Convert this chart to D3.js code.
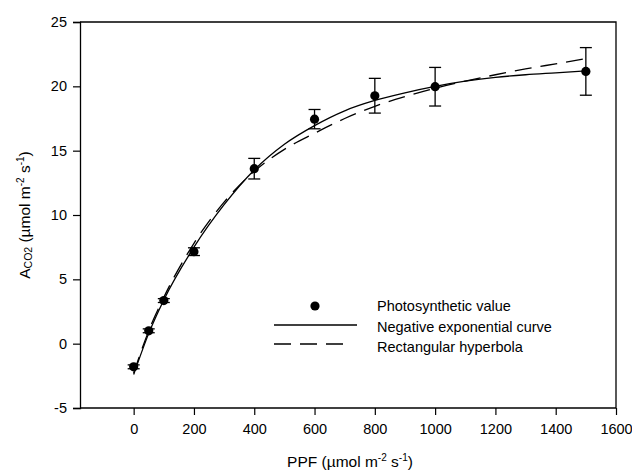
<!DOCTYPE html>
<html>
<head>
<meta charset="utf-8">
<script src="https://cdn.jsdelivr.net/npm/d3@7"></script>
<style>
  html, body { margin: 0; padding: 0; background: #fff; }
  svg { display: block; font-family: "Liberation Sans", Arial, sans-serif; }
</style>
</head>
<body>
<svg id="chart" width="632" height="472"></svg>
<script>
// ---- data ----
const ppf = [0, 50, 100, 200, 400, 600, 800, 1000, 1500];
const photoValue = [-1.8, 1.0, 3.35, 7.15, 13.6, 17.45, 19.27, 19.97, 21.16];
const photoErr = [0.15, 0.15, 0.15, 0.3, 0.8, 0.75, 1.35, 1.5, 1.85];

const curveX = [0, 50, 100, 200, 300, 400, 500, 600, 700, 800, 900, 1000, 1100, 1200, 1300, 1400, 1500];
const negExpY = [-2.4, 0.8, 3.4, 7.5, 10.8, 13.5, 15.5, 16.95, 18.1, 18.9, 19.5, 20.0, 20.4, 20.7, 20.9, 21.05, 21.2];
const rectHypY = [-2.3, 1.0, 3.6, 7.8, 11.0, 13.4, 15.1, 16.35, 17.5, 18.45, 19.2, 19.85, 20.4, 20.9, 21.35, 21.75, 22.15];

const xTicks = [0, 200, 400, 600, 800, 1000, 1200, 1400, 1600];
const yTicks = [-5, 0, 5, 10, 15, 20, 25];
const legendLabels = ["Photosynthetic value", "Negative exponential curve", "Rectangular hyperbola"];

// ---- layout ----
const svg = d3.select("#chart");
const L = 80, R = 616, T = 22, B = 408;
const x = d3.scaleLinear().domain([-178, 1600]).range([L, R]);
const y = d3.scaleLinear().domain([-5, 25]).range([B, T]);
const fontSize = 14.5;

// frame (top and right)
svg.append("path")
  .attr("d", `M${L},${T}H${R}V${B}`)
  .attr("fill", "none").attr("stroke", "#000").attr("stroke-width", 1.3);

// y axis
const yAxis = svg.append("g").attr("transform", `translate(${L},0)`)
  .call(d3.axisLeft(y).tickValues(yTicks).tickSize(7).tickPadding(6).tickFormat(d => String(d)));
// x axis
const xAxis = svg.append("g").attr("transform", `translate(0,${B})`)
  .call(d3.axisBottom(x).tickValues(xTicks).tickSize(7).tickPadding(9).tickFormat(d => String(d)));
[yAxis, xAxis].forEach(g => {
  g.select(".domain").attr("stroke-width", 1.3);
  g.selectAll(".tick line").attr("stroke-width", 1.2);
  g.selectAll(".tick text").attr("font-size", fontSize)
    .attr("font-family", "'Liberation Sans', Arial, sans-serif").attr("fill", "#000");
});
xAxis.select(".domain").attr("d", `M${L},0H${R}`);

// curves
const line = d3.line().x(d => x(d[0])).y(d => y(d[1])).curve(d3.curveMonotoneX);
svg.append("path")
  .datum(curveX.map((v, i) => [v, negExpY[i]]))
  .attr("d", line).attr("fill", "none").attr("stroke", "#000").attr("stroke-width", 1.3);
svg.append("path")
  .datum(curveX.map((v, i) => [v, rectHypY[i]]))
  .attr("d", line).attr("fill", "none").attr("stroke", "#000").attr("stroke-width", 1.3)
  .attr("stroke-dasharray", "17,9");

// error bars
const pts = ppf.map((v, i) => ({ x: v, y: photoValue[i], e: photoErr[i] }));
const eb = svg.append("g").attr("stroke", "#000").attr("stroke-width", 1.3);
pts.forEach(p => {
  const cx = x(p.x), y1 = y(p.y + p.e), y2 = y(p.y - p.e);
  eb.append("line").attr("x1", cx).attr("x2", cx).attr("y1", y1).attr("y2", y2);
  eb.append("line").attr("x1", cx - 6).attr("x2", cx + 6).attr("y1", y1).attr("y2", y1);
  eb.append("line").attr("x1", cx - 6).attr("x2", cx + 6).attr("y1", y2).attr("y2", y2);
});
// points
svg.append("g").selectAll("circle").data(pts).join("circle")
  .attr("cx", d => x(d.x)).attr("cy", d => y(d.y)).attr("r", 4.6).attr("fill", "#000");

// legend
const lg = svg.append("g");
lg.append("circle").attr("cx", 315).attr("cy", 306).attr("r", 4.6).attr("fill", "#000");
lg.append("line").attr("x1", 274).attr("x2", 357).attr("y1", 325).attr("y2", 325)
  .attr("stroke", "#000").attr("stroke-width", 1.3);
lg.append("line").attr("x1", 274).attr("x2", 351).attr("y1", 344).attr("y2", 344)
  .attr("stroke", "#000").attr("stroke-width", 1.3).attr("stroke-dasharray", "17,9");
legendLabels.forEach((t, i) => {
  lg.append("text").attr("x", 377).attr("y", 311 + i * 20.5)
    .attr("font-size", fontSize).attr("fill", "#000").text(t);
});

// x title
const xt = svg.append("text").attr("x", 350).attr("y", 467).attr("text-anchor", "middle")
  .attr("font-size", 15.5).attr("fill", "#000");
xt.append("tspan").text("PPF (µmol m");
xt.append("tspan").attr("dy", -6).attr("font-size", 10).text("-2");
xt.append("tspan").attr("dy", 6).text(" s");
xt.append("tspan").attr("dy", -6).attr("font-size", 10).text("-1");
xt.append("tspan").attr("dy", 6).text(")");

// y title
const yt = svg.append("text").attr("transform", `translate(30,${(T + B) / 2}) rotate(-90)`)
  .attr("text-anchor", "middle").attr("font-size", 15.5).attr("fill", "#000");
yt.append("tspan").text("A");
yt.append("tspan").attr("font-size", 10.5).attr("dy", 2).text("CO2");
yt.append("tspan").attr("dy", -2).text(" (µmol m");
yt.append("tspan").attr("dy", -6).attr("font-size", 10).text("-2");
yt.append("tspan").attr("dy", 6).text(" s");
yt.append("tspan").attr("dy", -6).attr("font-size", 10).text("-1");
yt.append("tspan").attr("dy", 6).text(")");
</script>
</body>
</html>
